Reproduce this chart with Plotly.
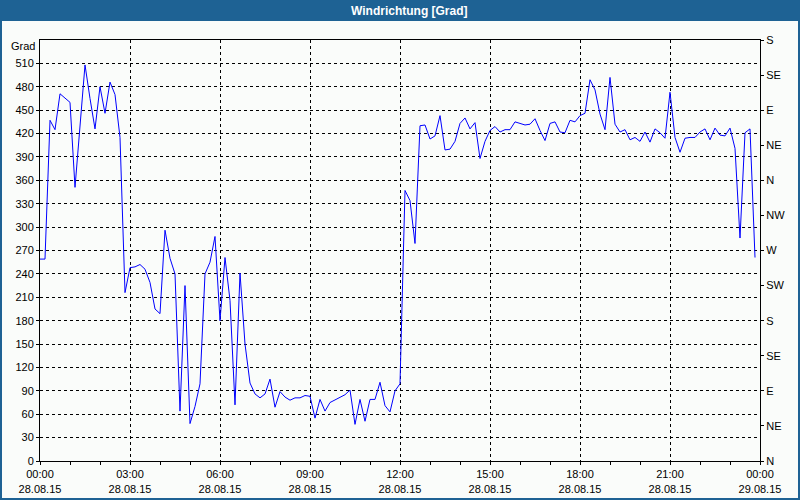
import plotly.graph_objects as go
import pandas as pd

# Data: wind direction every 10 minutes on 28.08.15
start_time = "2015-08-28 00:00"
step = "10min"
wind_deg = [
    259, 259, 437, 425, 471, 465, 460, 351, 433, 508, 465, 426,
    480, 446, 486, 470, 415, 216, 248, 249, 252, 246, 229, 195,
    189, 296, 260, 240, 64, 225, 48, 70, 99, 240, 255, 288,
    180, 261, 206, 72, 241, 150, 100, 86, 81, 86, 105, 69,
    89, 82, 78, 81, 81, 84, 83, 55, 79, 64, 75, 78,
    81, 85, 91, 47, 79, 51, 79, 79, 101, 71, 63, 90,
    99, 347, 334, 279, 430, 431, 413, 417, 443, 399, 400, 410,
    433, 440, 426, 434, 388, 410, 424, 429, 422, 425, 425, 435,
    433, 431, 432, 439, 424, 411, 433, 435, 422, 421, 437, 435,
    443, 446, 489, 476, 445, 425, 492, 432, 422, 425, 412, 415,
    410, 422, 409, 426, 421, 414, 473, 415, 396, 414, 415, 415,
    422, 426, 412, 427, 418, 417, 427, 401, 286, 421, 426, 261,
]
times = pd.date_range(start_time, periods=len(wind_deg), freq=step)

left_ticks = list(range(0, 511, 30))
right_tickvals = [0, 45, 90, 135, 180, 225, 270, 315, 360, 405, 450, 495, 540]
right_ticktext = ["N", "NE", "E", "SE", "S", "SW", "W", "NW", "N", "NE", "E", "SE", "S"]
title_text = "Windrichtung [Grad]"
unit_text = "Grad"

BG = "#FAFCFA"
BLUE_BAR = "#1E6294"
FONT = "Liberation Sans"

fig = go.Figure()
fig.add_trace(go.Scatter(
    x=times, y=wind_deg, mode="lines",
    line=dict(color="#0000FF", width=1),
    hoverinfo="skip", showlegend=False,
))

H_PLOT = 421.0
W_PLOT = 720.0

def px_x(px):
    return (px - 40) / W_PLOT

def px_y(py):
    return 1 + (40 - py) / H_PLOT

fig.update_layout(
    width=800, height=500,
    margin=dict(l=40, r=40, t=40, b=39, pad=0, autoexpand=False),
    paper_bgcolor=BG, plot_bgcolor=BG,
    font=dict(family=FONT, size=11, color="black"),
    showlegend=False,
    xaxis=dict(
        type="date",
        range=["2015-08-28 00:00", "2015-08-29 00:00"],
        dtick=3 * 3600 * 1000,
        tick0="2015-08-28 00:00",
        tickformat="%H:%M<br>%d.%m.%y",
        ticks="outside", ticklen=3, tickcolor="black",
        minor=dict(dtick=3600 * 1000, ticks="outside", ticklen=3, tickcolor="black", showgrid=False),
        showgrid=True, gridcolor="black", griddash="3px,3px", gridwidth=1,
        showline=True, linecolor="black", linewidth=1, mirror=True,
        zeroline=False, fixedrange=True, automargin=False,
    ),
    yaxis=dict(
        range=[0, 540],
        tickvals=left_ticks,
        ticks="outside", ticklen=3, tickcolor="black",
        showgrid=True, gridcolor="black", griddash="3px,3px", gridwidth=1,
        showline=True, linecolor="black", linewidth=1,
        zeroline=False, fixedrange=True, automargin=False,
    ),
    yaxis2=dict(
        range=[0, 540], overlaying="y", side="right",
        tickvals=right_tickvals, ticktext=right_ticktext,
        ticks="outside", ticklen=3, tickcolor="black",
        showgrid=False, showline=True, linecolor="black", linewidth=1,
        zeroline=False, fixedrange=True, automargin=False,
    ),
    shapes=[
        dict(type="rect", xref="paper", yref="paper",
             x0=px_x(0), x1=px_x(800), y0=px_y(0), y1=px_y(21),
             fillcolor=BLUE_BAR, line=dict(width=0), layer="below"),
        dict(type="rect", xref="paper", yref="paper",
             x0=px_x(1), x1=px_x(799), y0=px_y(1), y1=px_y(499),
             fillcolor="rgba(0,0,0,0)", line=dict(color=BLUE_BAR, width=2)),
    ],
    annotations=[
        dict(text="<b>" + title_text + "</b>", xref="paper", yref="paper",
             x=px_x(410), y=px_y(10.5), xanchor="center", yanchor="middle",
             showarrow=False, font=dict(family=FONT, size=12, color="white")),
        dict(text=unit_text, xref="paper", yref="paper",
             x=px_x(37), y=px_y(46), xanchor="right", yanchor="middle",
             showarrow=False, font=dict(family=FONT, size=11, color="black")),
    ],
)

# invisible companion trace so the right compass axis is rendered
fig.add_trace(go.Scatter(x=[times[0]], y=[0], yaxis="y2", mode="markers",
                         marker=dict(opacity=0), hoverinfo="skip", showlegend=False))

fig.write_html(
    "out.html",
    config={"displayModeBar": False},
    post_script="document.body.style.margin='0';document.body.style.padding='0';",
)
